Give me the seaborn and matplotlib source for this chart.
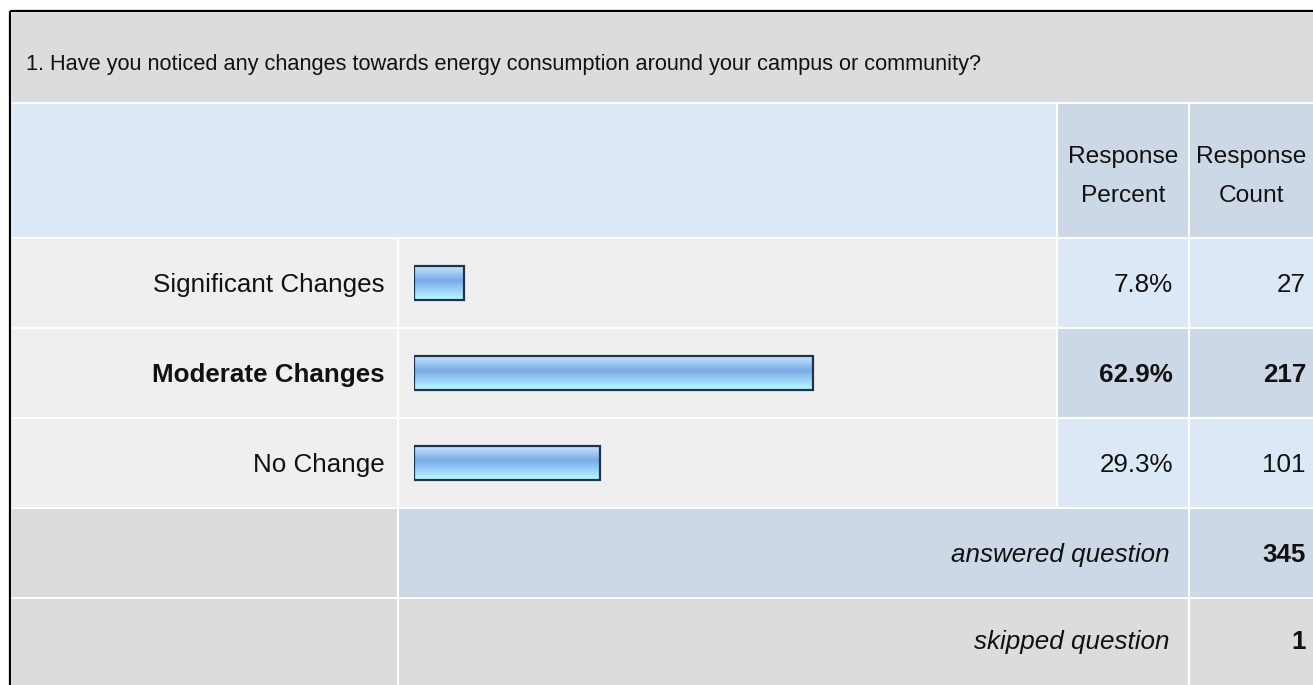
"""
Survey result table: energy consumption changes (SurveyMonkey style)
"""
import matplotlib
matplotlib.use("Agg")
import matplotlib.pyplot as plt
from matplotlib.patches import Rectangle
from matplotlib.colors import LinearSegmentedColormap
import numpy as np
import pandas as pd
import seaborn as sns

sns.set_style("white")
plt.rcParams['font.family'] = ['Liberation Sans Narrow', 'Liberation Sans', 'DejaVu Sans']

# data
question = "1. Have you noticed any changes towards energy consumption around your campus or community?"
answers = ["Significant Changes", "Moderate Changes", "No Change"]
percents = [7.8, 62.9, 29.3]
counts = [27, 217, 101]
answered = 345
skipped = 1

W, H = 1313, 685
fig = plt.figure(figsize=(W / 100, H / 100), dpi=100)
fig.patch.set_facecolor("white")
ax = fig.add_axes([0, 0, 1, 1])
ax.set_xlim(0, W)
ax.set_ylim(H, 0)
ax.axis("off")
renderer = fig.canvas.get_renderer()

# grid (pixels)
xs = [11, 398, 1057, 1189, 1320]
ys = [12, 103, 238, 328, 418, 508, 598, 700]

GREY = "#dcdcdc"
LIGHT = "#efefef"
BLUE1 = "#dde8f6"
BLUE2 = "#cdd8e6"


def cell(x0, x1, y0, y1, color):
    ax.add_patch(Rectangle((x0 + 1, y0 + 1), x1 - x0 - 2, y1 - y0 - 2,
                           facecolor=color, edgecolor="none", zorder=1))


# title row
cell(xs[0], xs[4], ys[0], ys[1], GREY)
# header row
cell(xs[0], xs[2], ys[1], ys[2], BLUE1)
cell(xs[2], xs[3], ys[1], ys[2], BLUE2)
cell(xs[3], xs[4], ys[1], ys[2], BLUE2)
# answer rows
for i in range(len(answers)):
    y0, y1 = ys[2 + i], ys[3 + i]
    c = BLUE2 if i == 1 else BLUE1
    cell(xs[0], xs[1], y0, y1, LIGHT)
    cell(xs[1], xs[2], y0, y1, LIGHT)
    cell(xs[2], xs[3], y0, y1, c)
    cell(xs[3], xs[4], y0, y1, c)
# answered / skipped
cell(xs[0], xs[1], ys[5], ys[6], GREY)
cell(xs[1], xs[3], ys[5], ys[6], BLUE2)
cell(xs[3], xs[4], ys[5], ys[6], BLUE2)
cell(xs[0], xs[1], ys[6], ys[7], GREY)
cell(xs[1], xs[3], ys[6], ys[7], GREY)
cell(xs[3], xs[4], ys[6], ys[7], GREY)

# outer border (top / left)
ax.plot([10, W], [11, 11], color="black", lw=1.6, zorder=5, solid_capstyle="butt")
ax.plot([10, 10], [11, H], color="black", lw=1.6, zorder=5, solid_capstyle="butt")


def fit_size(s, target, **kw):
    t = ax.text(0, 0, s, fontsize=10, **kw)
    w = t.get_window_extent(renderer).width
    t.remove()
    return 10 * target / w


# the reference font is a condensed face; widths are a compromise with height
title_fs = fit_size(question, 960)
body_fs = fit_size("Significant Changes", 232)
head_fs = fit_size("Response", 110)


def put(x, yc, s, ha="right", weight="normal", style="normal", fs=None):
    fs = fs or body_fs
    ax.text(x, yc + 0.36 * fs * 100 / 72, s, ha=ha, va="baseline", fontsize=fs,
            fontweight=weight, style=style, color="#111111", zorder=6)


put(26, 62, question, ha="left", fs=title_fs)

# header
put(1123, 154, "Response", ha="center", fs=head_fs)
put(1123, 193, "Percent", ha="center", fs=head_fs)
put(1251, 154, "Response", ha="center", fs=head_fs)
put(1251, 193, "Count", ha="center", fs=head_fs)

for i, (a, p, c) in enumerate(zip(answers, percents, counts)):
    yc = (ys[2 + i] + ys[3 + i]) / 2
    wt = "bold" if i == 1 else "normal"
    put(385, yc, a, weight=wt)
    put(1173, yc, f"{p}%", weight=wt)
    put(1306, yc, str(c), weight=wt)

yc = (ys[5] + ys[6]) / 2
put(1170, yc, "answered question", style="italic")
put(1306, yc, str(answered), weight="bold")
yc = (ys[6] + 685) / 2 - 2
put(1170, yc, "skipped question", style="italic")
put(1306, yc, str(skipped), weight="bold")

# bars
bx0, bx1 = 414, 1049
by0, by1 = ys[2], ys[5]
bax = fig.add_axes([bx0 / W, (H - by1) / H, (bx1 - bx0) / W, (by1 - by0) / H])
df = pd.DataFrame({"answer": answers, "percent": percents})
sns.barplot(data=df, x="percent", y="answer", orient="h", width=0.38,
            color="#8cbcee", edgecolor="#1f344c", linewidth=1.6, ax=bax)
bax.set_xlim(0, 100)
bax.set_ylim(2.5, -0.5)
bax.axis("off")
bax.patch.set_alpha(0)

cmap = LinearSegmentedColormap.from_list(
    "bar", [(0, "#cce6fe"), (0.2, "#a6cef6"), (0.44, "#78aae4"),
            (0.56, "#88bcf0"), (0.8, "#a4dcfa"), (1, "#bafcff")])
grad = np.linspace(0, 1, 64).reshape(-1, 1)
for patch in bax.patches:
    x0, y0 = patch.get_x(), patch.get_y()
    w, h = patch.get_width(), patch.get_height()
    im = bax.imshow(grad, extent=[x0, x0 + w, y0 + h, y0], aspect="auto",
                    cmap=cmap, zorder=patch.get_zorder() - 0.1, origin="upper")
    im.set_clip_path(patch)
    patch.set_facecolor("none")
bax.set_xlim(0, 100)
bax.set_ylim(2.5, -0.5)

fig.savefig("out.png", dpi=100, facecolor="white")
